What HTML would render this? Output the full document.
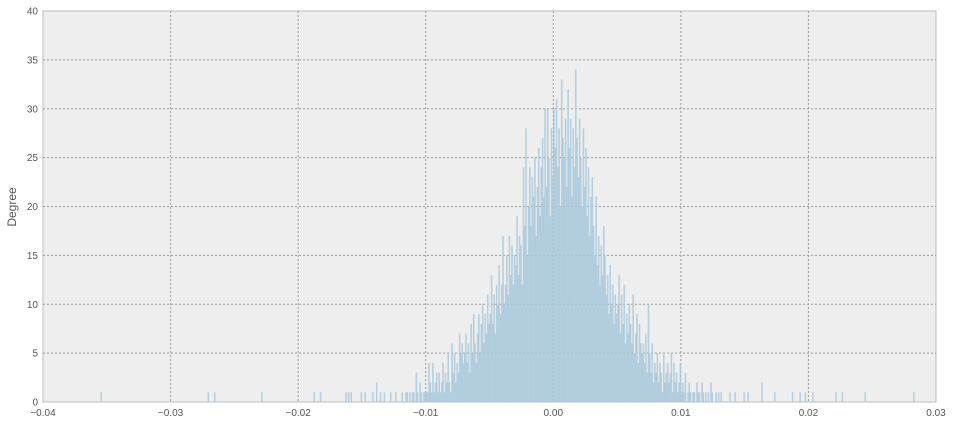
<!DOCTYPE html>
<html><head><meta charset="utf-8"><style>
body{margin:0;background:#fff;}
svg text{font-family:"Liberation Sans",sans-serif;font-size:10px;fill:#555;}
</style></head><body>
<svg id="chart" width="953" height="425" xmlns="http://www.w3.org/2000/svg">
<rect x="43" y="11" width="893" height="391" fill="#eeeeee" stroke="#bcbcbc" stroke-width="1"/>
<g id="grid"></g><g id="bars"></g><g id="ticks"></g>
<text x="16" y="207" transform="rotate(-90 16 207)" text-anchor="middle" style="font-size:12px">Degree</text>
</svg>
<script>
const binStart = -0.012;
const binWidth = 0.0001;
const binCounts = [
0,1,0,0,1,1,0,1,0,1,
1,0,3,1,0,2,1,0,1,1,
1,1,4,2,1,4,1,2,3,1,
3,1,2,4,1,3,2,5,2,1,
6,3,5,2,4,3,7,5,6,4,
5,7,4,6,3,8,5,9,6,4,
7,9,5,8,10,6,9,7,11,8,
9,13,8,11,7,12,10,14,9,12,
17,10,12,15,11,17,13,16,12,15,
14,19,13,17,16,12,24,18,28,15,
20,24,18,23,21,25,17,22,26,19,
24,27,21,30,22,30,25,19,28,23,
30,26,31,24,28,20,33,27,25,29,
22,32,26,29,21,28,24,34,27,23,
29,25,20,28,22,26,19,24,17,21,
23,18,15,21,14,17,12,16,13,18,
15,11,13,9,14,10,12,8,11,9,
10,13,7,11,8,12,6,9,7,10,
8,6,11,5,7,9,4,8,6,5,
6,4,7,3,10,5,3,6,2,4,
3,5,2,4,3,1,5,2,3,4,
2,3,5,1,4,2,3,1,2,4,
1,2,1,3,0,1,2,1,0,1,
1,0,2,1,1,0,2,1,0,1,
0,1,0,2,1,0,0,1,0,1];
const outlierX = [-0.0355,-0.0271,-0.0266,-0.0229,-0.0188,-0.0183,-0.0163,-0.0161,-0.0159,-0.0151,-0.0148,-0.0142,-0.0139,-0.0136,-0.0133,-0.0128,-0.0124,0.0131,0.0138,0.0142,0.0149,0.0152,0.0163,0.0173,0.0187,0.0193,0.0197,0.0203,0.0221,0.0226,0.0244,0.0282];
const outlierCounts = [1,1,1,1,1,1,1,1,1,1,1,1,2,1,1,1,1,1,1,1,1,1,2,1,1,1,1,1,1,1,1,1];
const xTicks = [-0.04,-0.03,-0.02,-0.01,0.00,0.01,0.02,0.03];
const xTickLabels = ["\u22120.04","\u22120.03","\u22120.02","\u22120.01","0.00","0.01","0.02","0.03"];
const yTicks = [0,5,10,15,20,25,30,35,40];

const L=43,R=936,T=11,B=402;
const xs=v=>L+(v+0.04)/0.07*(R-L);
const ys=v=>B-v/40*(B-T);
const NS="http://www.w3.org/2000/svg";
const mk=(p,t,a)=>{const e=document.createElementNS(NS,t);for(const k in a)e.setAttribute(k,a[k]);document.getElementById(p).appendChild(e);return e;};
const bw=xs(binWidth)-xs(0);
xTicks.forEach((v,i)=>{
  if(i>0&&i<xTicks.length-1){const g=mk('grid','line',{x1:xs(v),x2:xs(v),y1:T,y2:B,stroke:'#999','stroke-dasharray':'2,2','stroke-width':1});
  
  }
  const t=mk('ticks','text',{x:xs(v),y:416,'text-anchor':'middle'});t.textContent=xTickLabels[i];
  
  
});
yTicks.forEach((v,i)=>{
  if(i>0&&i<yTicks.length-1){const g=mk('grid','line',{x1:L,x2:R,y1:ys(v),y2:ys(v),stroke:'#999','stroke-dasharray':'2,2','stroke-width':1});
  
  }
  const t=mk('ticks','text',{x:38,y:ys(v)+3.5,'text-anchor':'end'});t.textContent=String(v);
  
  
});
binCounts.forEach((c,i)=>{
  if(!c)return;
  const x=xs(binStart+i*binWidth);
  const r=mk('bars','rect',{x:x,y:ys(c),width:bw+0.3,height:B-ys(c),fill:'#a9c9dc','fill-opacity':0.85});
  
  
});
outlierX.forEach((v,i)=>{
  const r=mk('bars','rect',{x:xs(v),y:ys(outlierCounts[i]),width:1.5,height:B-ys(outlierCounts[i]),fill:'#a9c9dc','fill-opacity':0.85});
  
  
});
</script>
</body></html>
